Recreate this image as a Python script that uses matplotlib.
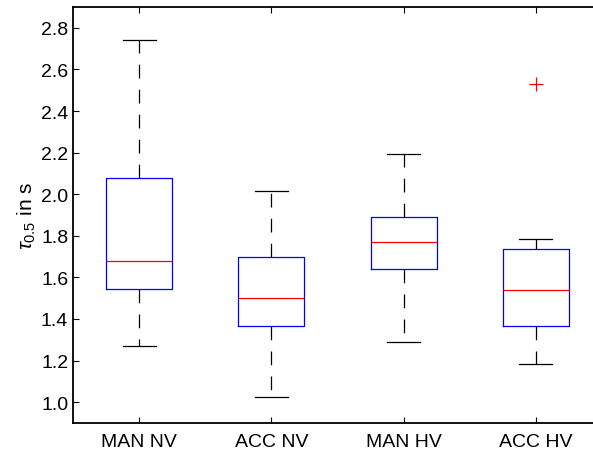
import matplotlib
matplotlib.use("Agg")
import matplotlib.pyplot as plt
import numpy as np

labels = ["MAN NV", "ACC NV", "MAN HV", "ACC HV"]
whis_lo = [1.27, 1.025, 1.29, 1.185]
q1 = [1.545, 1.365, 1.64, 1.365]
med = [1.68, 1.50, 1.77, 1.54]
q3 = [2.08, 1.70, 1.89, 1.735]
whis_hi = [2.74, 2.015, 2.195, 1.785]
fliers = [[], [], [], [2.53]]

plt.rcParams["font.family"] = ["Liberation Sans", "DejaVu Sans"]
plt.rcParams["mathtext.fontset"] = "custom"
plt.rcParams["mathtext.it"] = "Liberation Sans:italic"
plt.rcParams["mathtext.rm"] = "Liberation Sans"

stats = [
    {"label": lab, "whislo": lo, "q1": a, "med": m, "q3": b, "whishi": hi, "fliers": f}
    for lab, lo, a, m, b, hi, f in zip(labels, whis_lo, q1, med, q3, whis_hi, fliers)
]

fig = plt.figure(figsize=(5.93, 4.52), dpi=100)
ax = fig.add_axes([73 / 593, 1 - 424 / 452, 529 / 593, 416 / 452])

ax.bxp(
    stats,
    positions=np.arange(1, len(labels) + 1),
    widths=0.5,
    capwidths=0.25,
    boxprops=dict(color="blue", linewidth=0.9),
    medianprops=dict(color="red", linewidth=0.9),
    whiskerprops=dict(color="black", linewidth=0.9, linestyle=(0, (11, 9))),
    capprops=dict(color="black", linewidth=0.9),
    flierprops=dict(marker="+", markeredgecolor="red", markersize=10, markeredgewidth=0.9),
)

ax.set_xlim(0.5, 4.5)
ax.set_ylim(0.9, 2.9)
ax.set_yticks(np.arange(1.0, 2.81, 0.2))
ax.set_yticklabels([f"{v:.1f}" for v in np.arange(1.0, 2.81, 0.2)])
ax.set_xticks(np.arange(1, len(labels) + 1))
ax.set_xticklabels(labels)
ax.tick_params(direction="in", length=4, width=0.8, labelsize=14, top=True, right=True)
ax.tick_params(axis="x", pad=7)
for s in ax.spines.values():
    s.set_linewidth(1.3)
ax.set_ylabel(r"$\tau_{0.5}$ in s", fontsize=15, labelpad=2)

fig.savefig("out.png", dpi=100)
